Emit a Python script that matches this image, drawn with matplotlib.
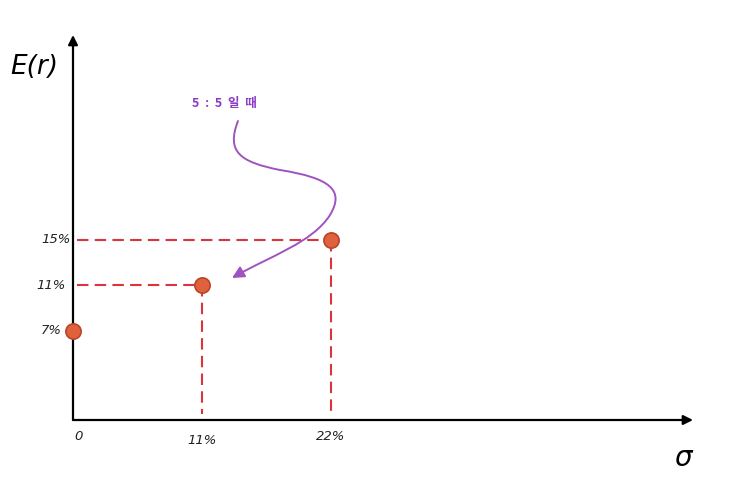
import numpy as np
import matplotlib
matplotlib.use('Agg')
import matplotlib.pyplot as plt
from matplotlib.path import Path
from matplotlib.patches import FancyArrowPatch
import matplotlib.transforms as mtransforms

# Data: portfolio points (sigma %, expected return %)
sigma = [0, 11, 22]
ret = [7, 11, 15]
xtick_labels = ['0', '11%', '22%']
ytick_labels = ['7%', '11%', '15%']
note = '5  :  5  일  때'

fig = plt.figure(figsize=(7.4, 4.79), dpi=100)
ax = fig.add_axes([73/740, 59/479, 620/740, 385/479])
ax.set_xlim(0, 52.9)
ax.set_ylim(-0.87, 33)
for s in ax.spines.values():
    s.set_visible(False)
ax.set_xticks([])
ax.set_yticks([])

# axes as arrows
ax.annotate('', xy=(1, 0), xytext=(0, 0), xycoords='axes fraction',
            arrowprops=dict(arrowstyle='-|>', color='black', lw=1.6,
                            mutation_scale=14, shrinkA=0, shrinkB=0))
ax.annotate('', xy=(0, 1), xytext=(0, 0), xycoords='axes fraction',
            arrowprops=dict(arrowstyle='-|>', color='black', lw=1.6,
                            mutation_scale=14, shrinkA=0, shrinkB=0))

# dashed guide lines
red = '#d8363c'
y0 = ax.get_ylim()[0]
for sx, ry in zip(sigma[1:], ret[1:]):
    ax.plot([0.35, sx], [ry, ry], ls=(0, (5.5, 3)), color=red, lw=1.5, zorder=2)
    ax.plot([sx, sx], [ry, y0 + 0.5], ls=(0, (5.5, 3)), color=red, lw=1.5, zorder=2)

ax.plot(sigma, ret, 'o', ms=11, color='#e0623d', mec='#b8452a', mew=1.2,
        zorder=5, clip_on=False)

# tick labels
for sx, lab, dy in zip(sigma, xtick_labels, [-16, -21, -17]):
    ax.annotate(lab, (sx, y0), xytext=(6 if sx == 0 else 0, dy),
                textcoords='offset pixels', ha='center', va='center',
                fontsize=9.5, style='italic', color='#222222')
for ry, lab, dx in zip(ret, ytick_labels, [-22, -22, -17]):
    ax.annotate(lab, (0, ry), xytext=(dx, 0), textcoords='offset pixels',
                ha='center', va='center', fontsize=9.5, style='italic',
                color='#222222')

fig.text(10/740, 1 - 67/479, 'E(r)', fontsize=19, style='italic', va='center')
fig.text(683/740, 1 - 458/479, 'σ', fontsize=20, style='italic',
         ha='center', va='center')

fig.text(224/740, 1 - 103/479, note, fontsize=9, fontweight='bold',
         color='#8a3cc4', ha='center', va='center',
         family=['Noto Sans CJK KR', 'DejaVu Sans'])

# curved annotation arrow, in pixel coordinates (top-left origin)
px = mtransforms.Affine2D().scale(1/740, -1/479).translate(0, 1) + fig.transFigure
verts = [(238, 121), (226, 152), (240, 162), (280, 170),
         (330, 178), (345, 190), (330, 215),
         (312, 243), (270, 256), (232, 278)]
codes = [Path.MOVETO] + [Path.CURVE4] * 9
arrow = FancyArrowPatch(path=Path(verts, codes), arrowstyle='-|>',
                        mutation_scale=18, color='#a052c0', lw=1.4,
                        transform=px)
fig.patches.append(arrow)

fig.savefig('out.png', dpi=100)
